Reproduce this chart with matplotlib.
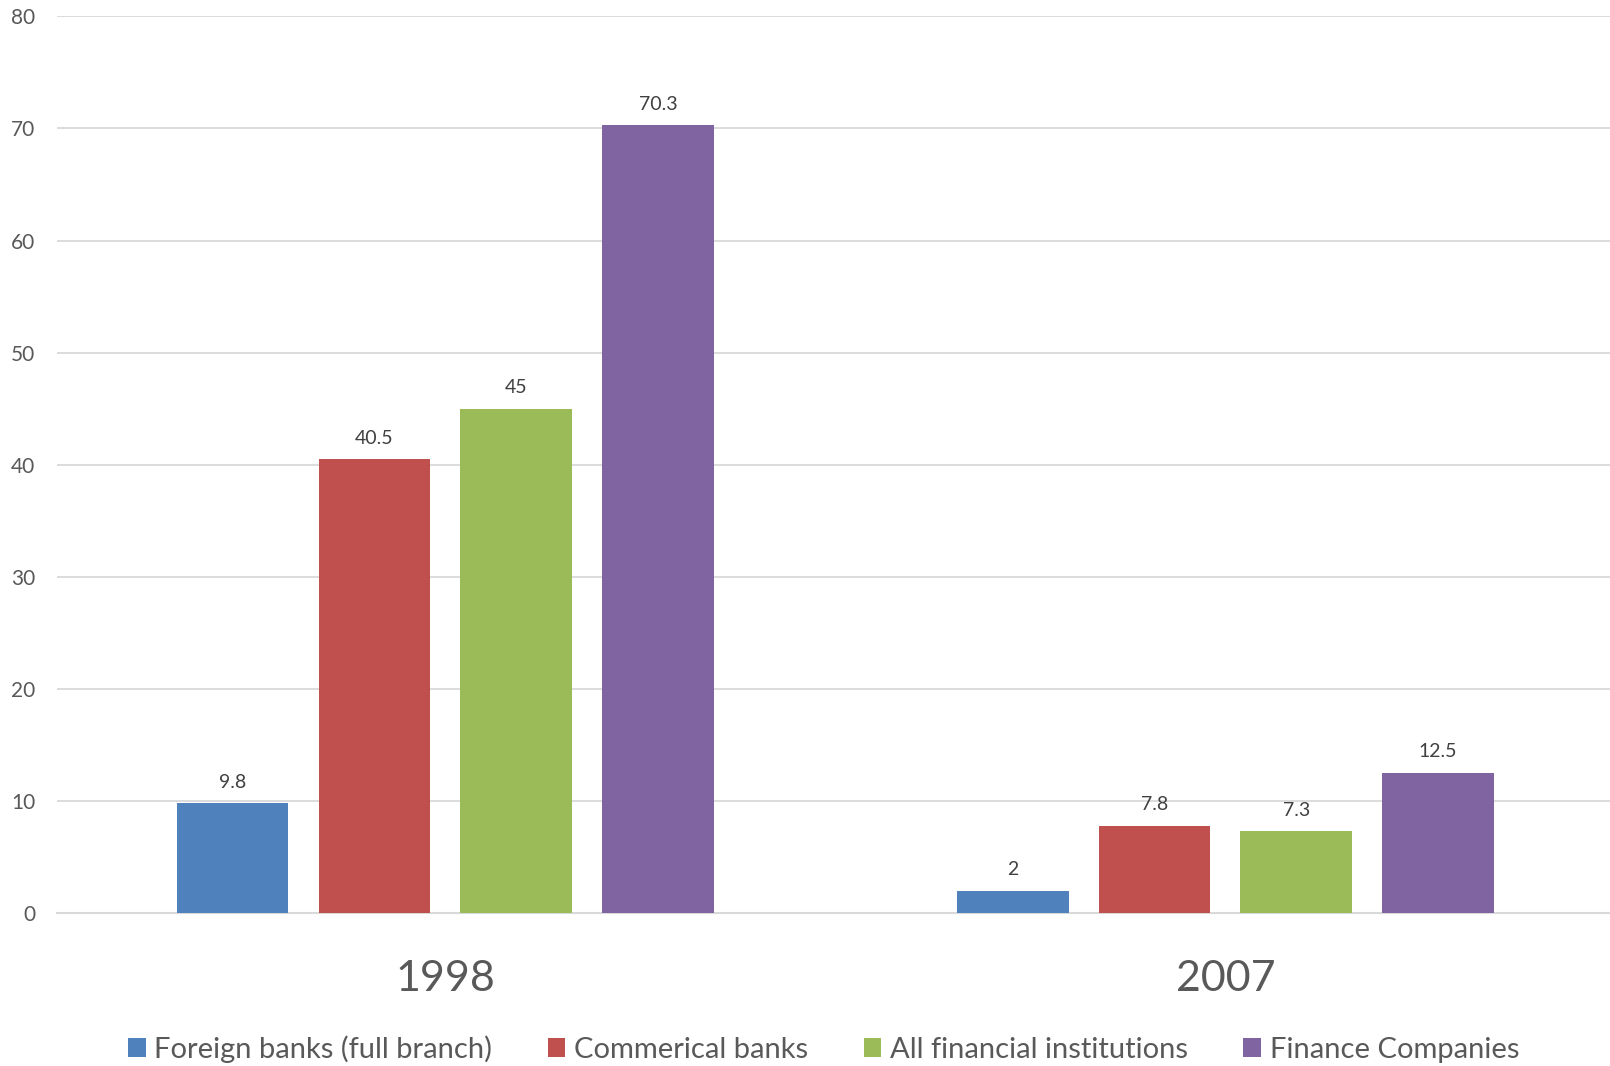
import matplotlib
matplotlib.use("Agg")
import matplotlib.pyplot as plt
import numpy as np

categories = ["1998", "2007"]
series_names = ["Foreign banks (full branch)", "Commerical banks",
                "All financial institutions", "Finance Companies"]
foreign = [9.8, 2]
commercial = [40.5, 7.8]
all_fin = [45, 7.3]
finance_cos = [70.3, 12.5]
colors = ["#4F81BD", "#C0504D", "#9BBB59", "#8064A2"]
yticks = [0, 10, 20, 30, 40, 50, 60, 70, 80]

plt.rcParams['font.family'] = ['Lato', 'DejaVu Sans']

fig = plt.figure(figsize=(16.10, 10.66), dpi=100)
ax = fig.add_axes([0.0357, 0.1435, 0.9643, 0.8411])

series = [foreign, commercial, all_fin, finance_cos]
x = np.arange(len(categories))
pitch = 0.1817
width = 0.143
for i, (vals, name, c) in enumerate(zip(series, series_names, colors)):
    pos = x + (i - 1.5) * pitch
    bars = ax.bar(pos, vals, width, color=c, label=name, zorder=3)
    for b, v in zip(bars, vals):
        ax.annotate(f"{v:g}", (b.get_x() + b.get_width() / 2, v),
                    xytext=(0, 9), textcoords="offset points",
                    ha="center", va="bottom", fontsize=14, color="#404040")

ax.set_xlim(-0.497, 1.493)
ax.set_ylim(0, 80)
ax.set_yticks(yticks)
ax.set_yticklabels([str(t) for t in yticks], fontsize=15, color="#595959")
ax.set_xticks(x)
ax.set_xticklabels(categories, fontsize=31, color="#595959")
ax.tick_params(axis='y', length=0, pad=16)
ax.tick_params(axis='x', length=0, pad=34)
ax.grid(axis='y', color="#D9D9D9", linewidth=1.3, zorder=0)
for s in ["top", "right", "left"]:
    ax.spines[s].set_visible(False)
ax.spines["bottom"].set_color("#D9D9D9")
ax.spines["bottom"].set_linewidth(1.5)

fig.legend(loc="center", bbox_to_anchor=(0.5116, 0.016), ncol=4, frameon=False,
           fontsize=21, handlelength=0.6, handleheight=0.6, handletextpad=0.3,
           columnspacing=1.9, labelcolor="#595959")

fig.savefig("out.png", dpi=100)
